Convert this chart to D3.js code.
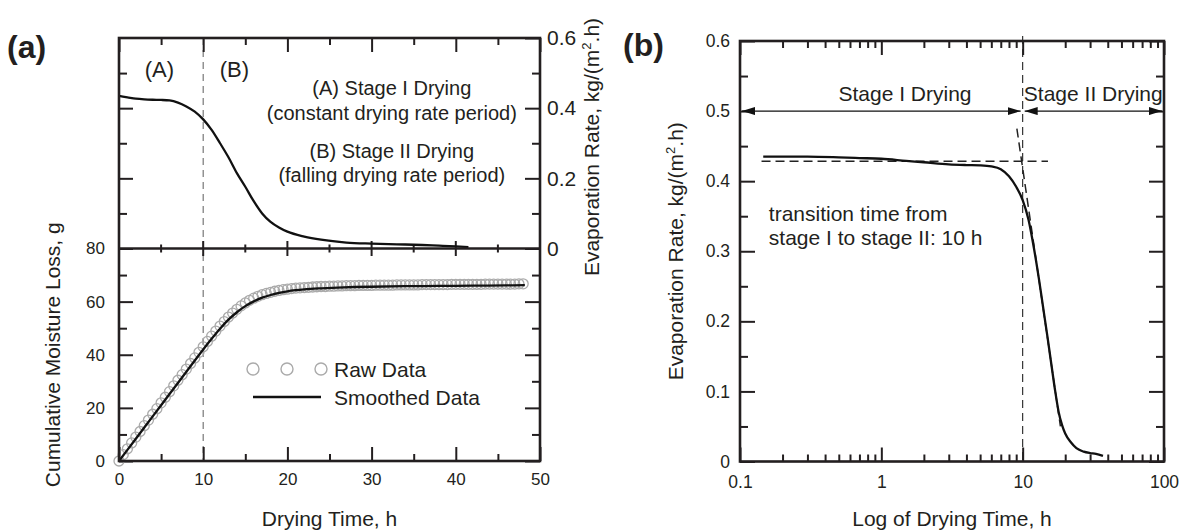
<!DOCTYPE html>
<html><head><meta charset="utf-8">
<script src="https://cdn.jsdelivr.net/npm/d3@7"></script>
<style>
body{margin:0;background:#fff}
svg{display:block}
text{font-family:"Liberation Sans",Arial,Helvetica,sans-serif;fill:#231f20}
</style>
</head><body>
<svg id="chart" width="1182" height="532"></svg>
<script>
// ---------- data ----------
// (a) top: evaporation rate vs drying time (linear)
const rateTime  = [0, 1, 2, 3, 4, 5, 6, 7, 8, 9, 10, 11, 12, 13, 14, 15, 16, 17, 18, 19, 20, 22, 24, 27, 30, 33, 36, 38, 40, 41.5];
const rateValue = [0.435, 0.431, 0.427, 0.425, 0.424, 0.4235, 0.422, 0.416, 0.405, 0.39, 0.368, 0.338, 0.3, 0.26, 0.215, 0.176, 0.135, 0.1, 0.076, 0.06, 0.048, 0.034, 0.025, 0.017, 0.014, 0.012, 0.010, 0.008, 0.006, 0.004];
// (b): evaporation rate vs log drying time
const logRateTime  = [0.146, 0.2, 0.3, 0.5, 0.7, 1, 1.5, 2, 3, 4, 5, 6, 7, 8, 9, 10, 11, 12, 13, 14, 15, 16, 17, 18, 19, 20, 22, 24, 27, 30, 33, 37];
const logRateValue = [0.435, 0.435, 0.435, 0.434, 0.433, 0.432, 0.429, 0.427, 0.424, 0.423, 0.4225, 0.421, 0.417, 0.407, 0.392, 0.373, 0.345, 0.305, 0.262, 0.218, 0.177, 0.137, 0.1, 0.07, 0.052, 0.04, 0.027, 0.019, 0.014, 0.012, 0.011, 0.008];
// (a) bottom: cumulative moisture loss
const rawTime = [0,0.5,1,1.5,2,2.5,3,3.5,4,4.5,5,5.5,6,6.5,7,7.5,8,8.5,9,9.5,10,10.5,11,11.5,12,12.5,13,13.5,14,14.5,15,15.5,16,16.5,17,17.5,18,18.5,19,19.5,20,20.5,21,21.5,22,22.5,23,23.5,24,24.5,25,25.5,26,26.5,27,27.5,28,28.5,29,29.5,30,30.5,31,31.5,32,32.5,33,33.5,34,34.5,35,35.5,36,36.5,37,37.5,38,38.5,39,39.5,40,40.5,41,41.5,42,42.5,43,43.5,44,44.5,45,45.5,46,46.5,47,47.5,48];
const rawLoss = [0.0,2.4,4.6,6.8,9.0,11.1,13.3,15.4,17.6,19.7,21.9,24.0,26.1,28.3,30.4,32.5,34.6,36.7,38.8,40.9,43.0,45.0,47.0,48.9,50.8,52.5,54.2,55.7,57.1,58.4,59.5,60.5,61.3,62.0,62.6,63.1,63.5,63.9,64.2,64.5,64.7,64.9,65.1,65.2,65.3,65.4,65.5,65.6,65.7,65.7,65.8,65.8,65.9,65.9,66.0,66.0,66.0,66.1,66.1,66.1,66.1,66.2,66.2,66.2,66.2,66.2,66.3,66.3,66.3,66.3,66.3,66.3,66.4,66.4,66.4,66.4,66.4,66.4,66.4,66.5,66.5,66.5,66.5,66.5,66.5,66.5,66.5,66.6,66.6,66.6,66.6,66.6,66.6,66.6,66.6,66.7,66.7];
const smoothTime = [0, 2, 4, 6, 8, 10, 11, 12, 13, 14, 15, 16, 17, 18, 19, 20, 21, 22, 24, 26, 28, 30, 34, 38, 42, 46, 48.2];
const smoothLoss = [0, 8.4, 16.8, 25.2, 33.6, 42.0, 46.0, 49.8, 53.2, 56.0, 58.3, 60.1, 61.5, 62.5, 63.3, 63.9, 64.3, 64.6, 65.0, 65.3, 65.5, 65.6, 65.8, 65.9, 66.0, 66.1, 66.2];
// ticks
const timeTicks = [0, 10, 20, 30, 40, 50];
const timeMinor = [5, 15, 25, 35, 45];
const lossTicks = [0, 20, 40, 60, 80];
const lossMinor = [10, 30, 50, 70];
const rateTicksA = [0, 0.2, 0.4, 0.6];
const rateMinorA = [0.1, 0.3, 0.5];
const rateTicksB = [0, 0.1, 0.2, 0.3, 0.4, 0.5, 0.6];
const rateMinorB = [0.05, 0.15, 0.25, 0.35, 0.45, 0.55];
const logTicks = [0.1, 1, 10, 100];
// annotations
const transitionTime = 10;
const plateauRate = 0.4285, plateauFrom = 0.142, plateauTo = 15.1;
const tangentTime = [9.1, 18.5], tangentRate = [0.475, 0.05];
const arrowRate = 0.5;

// ---------- scales ----------
const svg = d3.select("#chart");
const xA = d3.scaleLinear([0, 50], [119, 540]);
const yTop = d3.scaleLinear([0, 0.6], [248.5, 38]);
const yBot = d3.scaleLinear([0, 80], [461, 248.5]);
const xB = d3.scaleLog([0.1, 100], [740, 1164]);
const yB = d3.scaleLinear([0, 0.6], [461.5, 41]);
const INK = "#231f20";

function axis(fn, scale, tx, ty, values, size, fmt, fs, pad) {
  const a = fn(scale).tickValues(values).tickSizeInner(size).tickSizeOuter(0)
    .tickPadding(pad || 0).tickFormat(fmt || (() => ""));
  const g = svg.append("g").attr("transform", `translate(${tx},${ty})`).call(a);
  g.select(".domain").remove();
  g.selectAll(".tick line").attr("stroke", INK).attr("stroke-width", 2);
  g.selectAll(".tick text").attr("font-size", fs || 17).attr("fill", INK)
    .style("font-family", '"Liberation Sans", Arial, sans-serif');
  return g;
}
const fmtNum = d => String(d);

// ---------- panel (a) ----------
svg.append("line").attr("x1", xA(transitionTime)).attr("x2", xA(transitionTime))
  .attr("y1", yTop(0.6)).attr("y2", yBot(0))
  .attr("stroke", "#777").attr("stroke-width", 1.2).attr("stroke-dasharray", "7,5");

axis(d3.axisTop, xA, 0, yTop(0.6), timeTicks, -14);
axis(d3.axisTop, xA, 0, yTop(0.6), timeMinor, -7);
axis(d3.axisLeft, yTop, xA(0), 0, rateTicksA.filter(d => d > 0 && d < 0.6), -14);
axis(d3.axisLeft, yTop, xA(0), 0, rateMinorA, -8);
axis(d3.axisRight, yTop, xA(50), 0, rateTicksA, -15, fmtNum, 21, 7);
axis(d3.axisRight, yTop, xA(50), 0, rateMinorA, -8);
svg.append("g").selectAll("line").data(timeTicks.slice(1, -1).concat(timeMinor)).join("line")
  .attr("x1", d => xA(d)).attr("x2", d => xA(d))
  .attr("y1", d => yBot(80) - (d % 10 === 0 ? 7.5 : 4))
  .attr("y2", d => yBot(80) + (d % 10 === 0 ? 7.5 : 4))
  .attr("stroke", INK).attr("stroke-width", 2);
axis(d3.axisBottom, xA, 0, yBot(0), timeTicks, -14, fmtNum, 17, 12);
axis(d3.axisBottom, xA, 0, yBot(0), timeMinor, -7);
axis(d3.axisLeft, yBot, xA(0), 0, lossTicks, -14, fmtNum, 17, 14);
axis(d3.axisLeft, yBot, xA(0), 0, lossMinor, -8);
axis(d3.axisRight, yBot, xA(50), 0, lossTicks.filter(d => d < 80), -15);
axis(d3.axisRight, yBot, xA(50), 0, lossMinor, -8);

svg.append("g").selectAll("circle").data(rawTime.map((t, i) => [t, rawLoss[i]])).join("circle")
  .attr("cx", d => xA(d[0])).attr("cy", d => yBot(d[1])).attr("r", 5)
  .attr("fill", "none").attr("stroke", "#aaa").attr("stroke-width", 1.3);
svg.append("path").datum(smoothTime.map((t, i) => [t, smoothLoss[i]]))
  .attr("d", d3.line().x(d => xA(d[0])).y(d => yBot(d[1])).curve(d3.curveMonotoneX))
  .attr("fill", "none").attr("stroke", "#111").attr("stroke-width", 2.3);
svg.append("path").datum(rateTime.map((t, i) => [t, rateValue[i]]))
  .attr("d", d3.line().x(d => xA(d[0])).y(d => yTop(d[1])).curve(d3.curveMonotoneX))
  .attr("fill", "none").attr("stroke", "#111").attr("stroke-width", 2.3);

svg.append("rect").attr("x", xA(0)).attr("y", yTop(0.6)).attr("width", xA(50) - xA(0))
  .attr("height", yBot(0) - yTop(0.6)).attr("fill", "none").attr("stroke", INK).attr("stroke-width", 2.6);
svg.append("line").attr("x1", xA(0)).attr("x2", xA(50)).attr("y1", yBot(80)).attr("y2", yBot(80))
  .attr("stroke", INK).attr("stroke-width", 2.6);

const lg = svg.append("g").attr("transform", "translate(253,369)");
lg.selectAll("circle").data([0, 34, 68]).join("circle").attr("cx", d => d).attr("cy", 0).attr("r", 6)
  .attr("fill", "none").attr("stroke", "#aaa").attr("stroke-width", 1.4);
lg.append("text").attr("x", 81).attr("y", 8).attr("font-size", 21).text("Raw Data");
lg.append("line").attr("x1", 0).attr("x2", 68).attr("y1", 28).attr("y2", 28).attr("stroke", "#111").attr("stroke-width", 2.3);
lg.append("text").attr("x", 81).attr("y", 36).attr("font-size", 21).text("Smoothed Data");

svg.append("text").attr("x", xA(4.8)).attr("y", yTop(0.49)).attr("text-anchor", "middle").attr("font-size", 22).text("(A)");
svg.append("text").attr("x", xA(13.7)).attr("y", yTop(0.49)).attr("text-anchor", "middle").attr("font-size", 22).text("(B)");
const stageLines = ["(A) Stage I Drying", "(constant drying rate period)", "(B) Stage II Drying", "(falling drying rate period)"];
const stageRates = [0.4375, 0.366, 0.258, 0.19];
svg.append("g").selectAll("text").data(stageLines).join("text")
  .attr("x", xA(32.4)).attr("y", (d, i) => yTop(stageRates[i])).attr("text-anchor", "middle")
  .attr("font-size", 20).text(d => d);

svg.append("text").attr("x", (xA(0) + xA(50)) / 2).attr("y", 526).attr("text-anchor", "middle")
  .attr("font-size", 21).text("Drying Time, h");
svg.append("text").attr("transform", `translate(60,${(yBot(0) + yBot(80)) / 2}) rotate(-90)`)
  .attr("text-anchor", "middle").attr("font-size", 21).text("Cumulative Moisture Loss, g");
function evapTitle(x, y) {
  const t = svg.append("text").attr("transform", `translate(${x},${y}) rotate(-90)`)
    .attr("text-anchor", "middle").attr("font-size", 21);
  t.append("tspan").text("Evaporation Rate, kg/(m");
  t.append("tspan").attr("font-size", 13).attr("dy", -8).text("2");
  t.append("tspan").attr("dy", 8).text(".h)");
}
evapTitle(599, 147);
svg.append("text").attr("x", 7).attr("y", 58).attr("font-size", 32).attr("font-weight", "bold").text("(a)");

// ---------- panel (b) ----------
const minorLog = xB.ticks().filter(d => !logTicks.some(m => Math.abs(m - d) < 1e-9));
axis(d3.axisTop, xB, 0, yB(0.6), logTicks, -14);
axis(d3.axisTop, xB, 0, yB(0.6), minorLog, -7);
axis(d3.axisBottom, xB, 0, yB(0), logTicks, -14, fmtNum, 17.5, 14);
axis(d3.axisBottom, xB, 0, yB(0), minorLog, -7);
axis(d3.axisLeft, yB, xB(0.1), 0, rateTicksB, -15, fmtNum, 17.5, 10);
axis(d3.axisLeft, yB, xB(0.1), 0, rateMinorB, -8);
axis(d3.axisRight, yB, xB(100), 0, rateTicksB, -15);
axis(d3.axisRight, yB, xB(100), 0, rateMinorB, -8);

svg.append("line").attr("x1", xB(transitionTime)).attr("x2", xB(transitionTime))
  .attr("y1", yB(0.6) - 5).attr("y2", yB(0))
  .attr("stroke", "#222").attr("stroke-width", 1.1).attr("stroke-dasharray", "8,5");
svg.append("line").attr("x1", xB(plateauFrom)).attr("x2", xB(plateauTo))
  .attr("y1", yB(plateauRate)).attr("y2", yB(plateauRate))
  .attr("stroke", "#222").attr("stroke-width", 1.5).attr("stroke-dasharray", "9,5");
svg.append("line").attr("x1", xB(tangentTime[0])).attr("x2", xB(tangentTime[1]))
  .attr("y1", yB(tangentRate[0])).attr("y2", yB(tangentRate[1]))
  .attr("stroke", "#222").attr("stroke-width", 1.5).attr("stroke-dasharray", "9,5");

svg.append("path").datum(logRateTime.map((t, i) => [t, logRateValue[i]]))
  .attr("d", d3.line().x(d => xB(d[0])).y(d => yB(d[1])).curve(d3.curveMonotoneX))
  .attr("fill", "none").attr("stroke", "#111").attr("stroke-width", 2.3);

const defs = svg.append("defs");
defs.append("marker").attr("id", "ah").attr("viewBox", "0 0 13 8").attr("refX", 13).attr("refY", 4)
  .attr("markerWidth", 13).attr("markerHeight", 8).attr("markerUnits", "userSpaceOnUse")
  .attr("orient", "auto-start-reverse")
  .append("path").attr("d", "M0,0 L13,4 L0,8 Z").attr("fill", "#111");
svg.append("line").attr("x1", xB(0.1) + 2).attr("x2", xB(transitionTime) - 2)
  .attr("y1", yB(arrowRate)).attr("y2", yB(arrowRate)).attr("stroke", "#111").attr("stroke-width", 1.2)
  .attr("marker-start", "url(#ah)").attr("marker-end", "url(#ah)");
svg.append("line").attr("x1", xB(transitionTime) + 2).attr("x2", xB(100) - 2)
  .attr("y1", yB(arrowRate)).attr("y2", yB(arrowRate)).attr("stroke", "#111").attr("stroke-width", 1.2)
  .attr("marker-start", "url(#ah)").attr("marker-end", "url(#ah)");

svg.append("rect").attr("x", xB(0.1)).attr("y", yB(0.6)).attr("width", xB(100) - xB(0.1))
  .attr("height", yB(0) - yB(0.6)).attr("fill", "none").attr("stroke", INK).attr("stroke-width", 2.6);

svg.append("text").attr("x", xB(1.47)).attr("y", yB(0.514)).attr("text-anchor", "middle").attr("font-size", 21).text("Stage I Drying");
svg.append("text").attr("x", xB(31.6)).attr("y", yB(0.514)).attr("text-anchor", "middle").attr("font-size", 21).text("Stage II Drying");
svg.append("text").attr("x", xB(0.16)).attr("y", yB(0.343)).attr("font-size", 21).text("transition time from");
svg.append("text").attr("x", xB(0.16)).attr("y", yB(0.309)).attr("font-size", 21).text("stage I to stage II: 10 h");

svg.append("text").attr("x", (xB(0.1) + xB(100)) / 2).attr("y", 526).attr("text-anchor", "middle")
  .attr("font-size", 21).text("Log of Drying Time, h");
evapTitle(683, (yB(0) + yB(0.6)) / 2);
svg.append("text").attr("x", 623).attr("y", 56).attr("font-size", 32).attr("font-weight", "bold").text("(b)");
</script>
</body></html>
